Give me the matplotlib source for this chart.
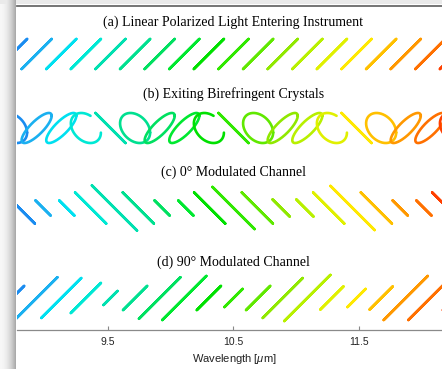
import numpy as np
import matplotlib.pyplot as plt

plt.rcParams['font.family'] = ['Liberation Sans', 'DejaVu Sans']
plt.rcParams['mathtext.fontset'] = 'custom'
plt.rcParams['mathtext.rm'] = 'Liberation Sans'
plt.rcParams['mathtext.it'] = 'Liberation Sans:italic'

# --------------------------------------------------
# data
# --------------------------------------------------
wavelength = [8.79, 8.98, 9.17, 9.36, 9.55, 9.74, 9.93, 10.12, 10.31, 10.50,
              10.69, 10.88, 11.07, 11.26, 11.45, 11.64, 11.83, 12.02, 12.21]

colors = ['#1a8cf0', '#1ab0f0', '#00e0f0', '#00e8d4', '#00e0b0', '#00e090',
          '#00e060', '#00e830', '#00e000', '#30e800', '#60e800', '#90e800',
          '#b8f000', '#e0f000', '#ffe800', '#ffc000', '#ff9800', '#ff7000',
          '#ff4000']

# amplitude of the entering light (same for x and y)
amp_in = 0.116

# phase between x and y after the crystals [deg]
phase_b = [252, 324, 36, 108, 180, 252, 324, 36, 108, 180,
           252, 324, 36, 108, 180, 252, 324, 36, 108]

# part of one cycle drawn for each ellipse in (b)
cycle_b = [1.0, 1.0, 1.0, 0.8, 1.0, 1.0, 1.0, 1.0, 0.8, 1.0,
           1.0, 1.0, 1.0, 0.8, 1.0, 1.0, 1.0, 1.0, 0.8]

# half length of the 0 deg channel bars
amp_c = [0.124, 0.060, 0.060, 0.124, 0.180, 0.124, 0.060, 0.060, 0.124, 0.168,
         0.124, 0.068, 0.068, 0.124, 0.176, 0.124, 0.060, 0.060, 0.124]

# half length of the 90 deg channel bars
amp_d = [0.093, 0.160, 0.154, 0.116, 0.054, 0.093, 0.160, 0.170, 0.093, 0.070,
         0.093, 0.154, 0.178, 0.089, 0.070, 0.089, 0.170, 0.170, 0.093]

titles = ['(a) Linear Polarized Light Entering Instrument',
          '(b) Exiting Birefringent Crystals',
          '(c) 0\u00b0 Modulated Channel',
          '(d) 90\u00b0 Modulated Channel']

xticks = [9.5, 10.5, 11.5]


# --------------------------------------------------
# helpers
# --------------------------------------------------
def ellipse(ax, x0, y0, ampx, ampy, fase, cor, ciclo=1.0):
    t = np.linspace(0, 2 * np.pi * ciclo, 240)
    x = x0 + ampx * np.cos(t)
    y = y0 + ampy * np.cos(t + np.radians(fase))
    ax.plot(x, y, color=cor, lw=1.9, solid_capstyle='round',
            solid_joinstyle='round')


W, H = 442, 369
fig = plt.figure(figsize=(W / 100, H / 100), dpi=100)

# window shadow behind the figure
bg = np.ones((H, W, 3))
for i in range(16):
    bg[:, i, :] = 0.97 - 0.30 * (i / 15.0) ** 2
bg[0:4, :, :] = np.minimum(bg[0:4, :, :], 0.92)
axbg = fig.add_axes([0, 0, 1, 1])
axbg.imshow(bg, aspect='auto', interpolation='nearest')
axbg.axis('off')

rect = [17 / W, (H - 330) / H, 434 / W, 324 / H]

# main axes (row c + wavelength axis)
sc = 125.3
ax = fig.add_axes(rect)
ax.patch.set_alpha(0)
ax.set_xlim(10.5 - 216.5 / sc, 10.5 - 216.5 / sc + 434 / sc)
ax.set_ylim(0, 324 / sc)

# overlay axes for rows a, b, d
s2 = 129.5
ax2 = fig.add_axes(rect)
ax2.patch.set_alpha(0)
ax2.set_xlim(10.5 - 216.5 / s2, 10.5 - 216.5 / s2 + 434 / s2)
ax2.set_ylim(0, 324 / s2)
ax2.axis('off')

ya = (330 - 54) / s2
yb = (330 - 128) / s2
yd = (330 - 298) / s2
yc = (330 - 208) / sc

for k, lam in enumerate(wavelength):
    cor = colors[k]
    # (a) linear at 45 deg
    ellipse(ax2, lam, ya, amp_in, amp_in, 0, cor)
    # (b) elliptical after crystals
    ellipse(ax2, lam, yb, amp_in, amp_in, phase_b[k], cor, cycle_b[k])
    # (c) 0 deg channel
    ellipse(ax, lam, yc, amp_c[k], amp_c[k], 180, cor)
    # (d) 90 deg channel
    ellipse(ax2, lam, yd, amp_d[k], amp_d[k], 0, cor)

title_y = [22, 94, 172, 262]
for tt, yy in zip(titles, title_y):
    ax.text(10.5, (330 - yy) / sc, tt, ha='center', va='center',
            fontsize=10, family=['Liberation Serif', 'DejaVu Serif'])

ax.set_xticks(xticks)
ax.set_xticklabels([str(v) for v in xticks])
ax.set_yticks([])
ax.tick_params(axis='x', direction='in', length=3, width=0.8, color='#888888',
               labelsize=7.5, pad=5, labelcolor='#222222')
ax.spines['left'].set_visible(False)
ax.spines['right'].set_visible(False)
ax.spines['bottom'].set_color('#8a8a8a')
ax.spines['bottom'].set_linewidth(0.9)
ax.spines['top'].set_color('#6a6a6a')
ax.spines['top'].set_linewidth(1.3)
ax.set_xlabel('Wavelength [$\\mu$m]', fontsize=8, labelpad=4, color='#222222')

fig.savefig('out.png', dpi=100)
